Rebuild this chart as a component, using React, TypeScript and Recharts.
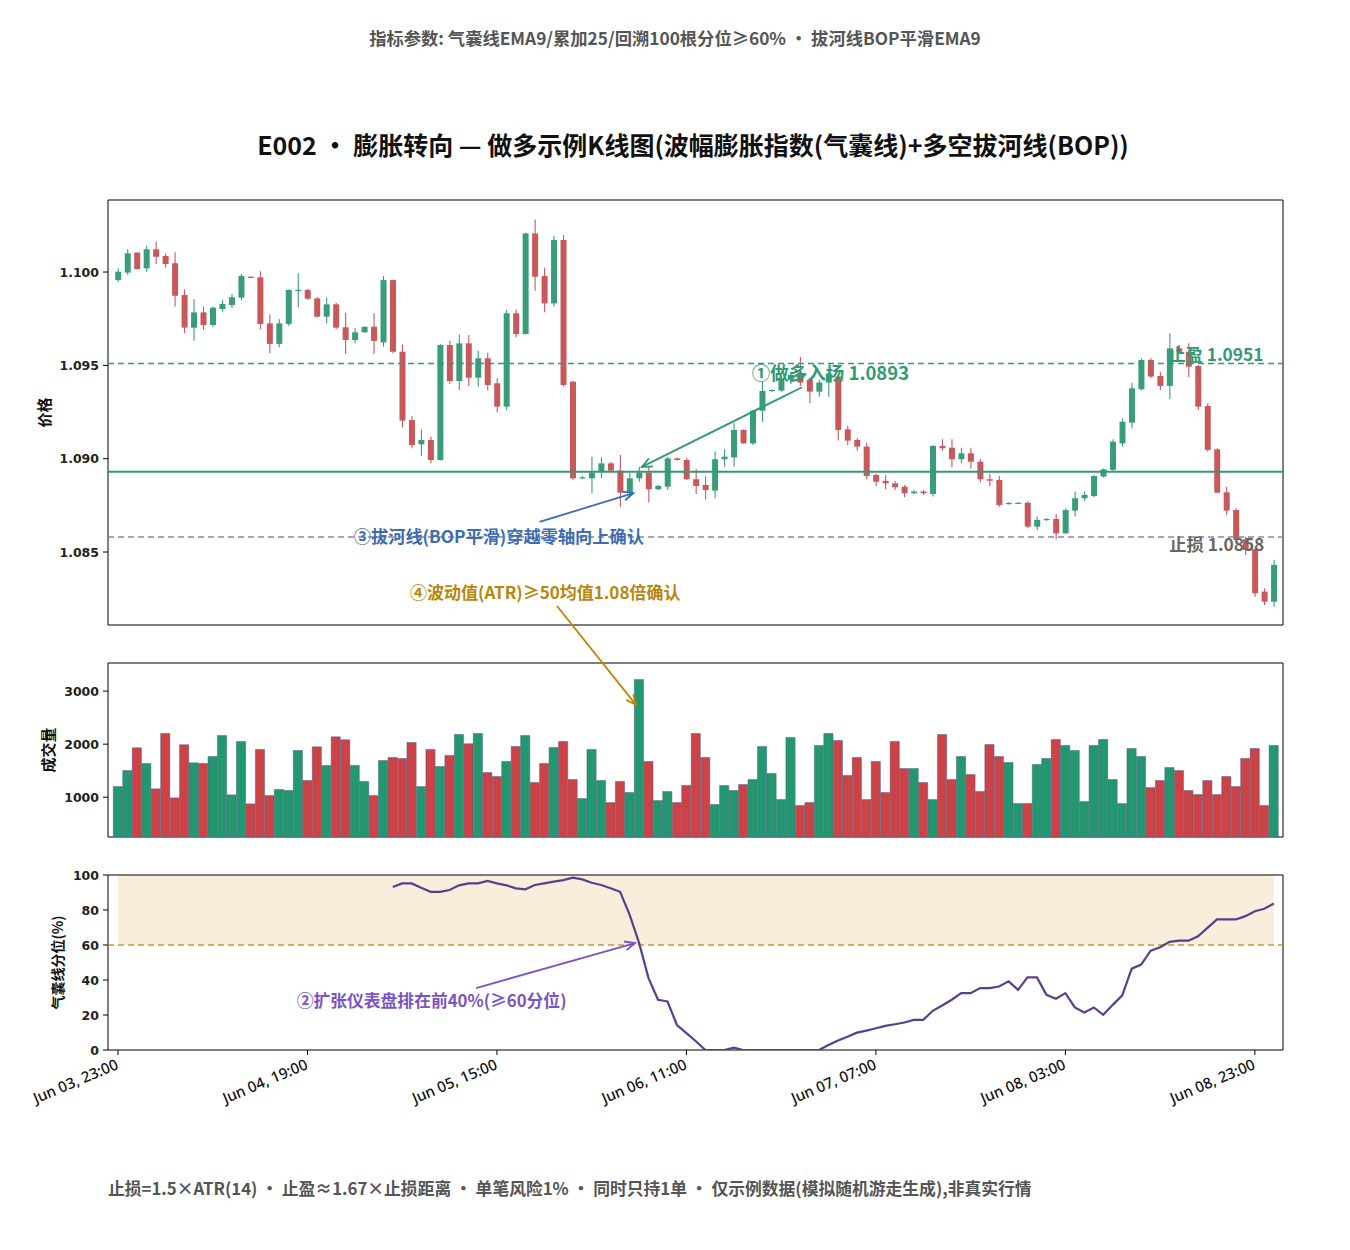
import React from 'react';
import { ComposedChart, Bar, Line, XAxis, YAxis, ReferenceLine, ReferenceArea, ReferenceDot, Cell } from 'recharts';

// ---------- data ----------
const timeLabels = ['Jun 03, 23:00', 'Jun 04, 19:00', 'Jun 05, 15:00', 'Jun 06, 11:00', 'Jun 07, 07:00', 'Jun 08, 03:00', 'Jun 08, 23:00'];
const tickIdx = [0, 20, 40, 60, 80, 100, 120];
const priceTicks = [1.085, 1.09, 1.095, 1.1];
const volumeTicks = [1000, 2000, 3000];
const pctTicks = [0, 20, 40, 60, 80, 100];

const opens = [1.09957, 1.09997, 1.10104, 1.1002, 1.10122, 1.10086, 1.10047, 1.09877, 1.09702, 1.09784, 1.09716, 1.09802, 1.09823, 1.09863, 1.09975, 1.09972, 1.09725, 1.09615, 1.09722, 1.09902, 1.09904, 1.09859, 1.09761, 1.09827, 1.09704, 1.09636, 1.09677, 1.09707, 1.09623, 1.09957, 1.09573, 1.09207, 1.09077, 1.091, 1.08993, 1.09609, 1.09416, 1.09618, 1.09434, 1.09538, 1.09404, 1.09279, 1.09779, 1.09668, 1.10207, 1.09979, 1.09832, 1.10172, 1.09413, 1.08897, 1.08895, 1.08931, 1.08975, 1.08936, 1.08818, 1.08895, 1.08925, 1.08836, 1.0885, 1.09002, 1.08993, 1.0889, 1.08859, 1.08829, 1.08997, 1.09007, 1.09154, 1.09082, 1.09257, 1.09363, 1.09365, 1.09422, 1.09449, 1.09422, 1.09359, 1.09408, 1.0944, 1.09157, 1.091, 1.09065, 1.08913, 1.08881, 1.08868, 1.0885, 1.08815, 1.08824, 1.08811, 1.09068, 1.09059, 1.08997, 1.09029, 1.08984, 1.0889, 1.08886, 1.08757, 1.08761, 1.08764, 1.08636, 1.08672, 1.08677, 1.086, 1.08722, 1.08788, 1.088, 1.08904, 1.0894, 1.09082, 1.09193, 1.09372, 1.09529, 1.09443, 1.0939, 1.09591, 1.09573, 1.09497, 1.09282, 1.0905, 1.0882, 1.08725, 1.08568, 1.08515, 1.08288, 1.08234];
const highs = [1.1002, 1.10122, 1.10106, 1.10141, 1.10163, 1.101, 1.10106, 1.09907, 1.09854, 1.09815, 1.09815, 1.0985, 1.09882, 1.0999, 1.09977, 1.10004, 1.09773, 1.09747, 1.09907, 1.09993, 1.09911, 1.09865, 1.09863, 1.09836, 1.09782, 1.09702, 1.09707, 1.09779, 1.09979, 1.0996, 1.09613, 1.09229, 1.09157, 1.09118, 1.09615, 1.09632, 1.09666, 1.09663, 1.09579, 1.09568, 1.09431, 1.09797, 1.098, 1.1021, 1.10282, 1.10023, 1.10193, 1.10198, 1.09415, 1.08907, 1.09011, 1.09007, 1.08984, 1.0902, 1.08925, 1.08957, 1.08957, 1.08859, 1.09011, 1.09007, 1.09002, 1.08943, 1.08907, 1.09038, 1.0905, 1.09193, 1.09156, 1.09261, 1.09413, 1.09372, 1.0944, 1.09466, 1.09545, 1.0943, 1.09422, 1.09475, 1.09449, 1.09177, 1.09109, 1.09086, 1.08918, 1.08913, 1.08881, 1.08859, 1.08832, 1.08832, 1.09073, 1.09104, 1.09104, 1.09059, 1.09059, 1.08997, 1.08918, 1.08907, 1.08766, 1.08767, 1.0877, 1.0869, 1.08682, 1.08704, 1.08734, 1.08824, 1.08824, 1.08913, 1.08948, 1.09104, 1.09216, 1.09407, 1.09538, 1.09538, 1.09466, 1.09672, 1.09609, 1.09618, 1.09502, 1.09297, 1.09056, 1.0885, 1.08734, 1.08582, 1.0852, 1.08306, 1.08457];
const lows = [1.09948, 1.09984, 1.10014, 1.10002, 1.10043, 1.10025, 1.09815, 1.09672, 1.09632, 1.0969, 1.09707, 1.09788, 1.09806, 1.0985, 1.09968, 1.09693, 1.09565, 1.09597, 1.09711, 1.09811, 1.0985, 1.09756, 1.09725, 1.09693, 1.09561, 1.09618, 1.09675, 1.09561, 1.096, 1.09565, 1.09168, 1.09056, 1.09015, 1.08975, 1.0899, 1.094, 1.09368, 1.0939, 1.09386, 1.09365, 1.09248, 1.09261, 1.0965, 1.09665, 1.099, 1.09784, 1.09815, 1.09386, 1.08886, 1.0889, 1.08815, 1.08895, 1.08931, 1.08743, 1.08793, 1.08877, 1.08765, 1.08832, 1.08832, 1.0899, 1.08886, 1.08811, 1.08782, 1.08788, 1.08957, 1.08957, 1.0908, 1.09073, 1.09198, 1.09359, 1.09359, 1.094, 1.0939, 1.09297, 1.09332, 1.09332, 1.09097, 1.09073, 1.09043, 1.0889, 1.08854, 1.08836, 1.08832, 1.08793, 1.08811, 1.08806, 1.08797, 1.09043, 1.08954, 1.08975, 1.08948, 1.08872, 1.08854, 1.08743, 1.08754, 1.08757, 1.08627, 1.08618, 1.08668, 1.08568, 1.08597, 1.0869, 1.08775, 1.08793, 1.089, 1.08936, 1.09065, 1.09163, 1.09365, 1.09431, 1.09368, 1.09318, 1.09565, 1.09436, 1.09261, 1.09038, 1.08815, 1.08698, 1.08556, 1.08484, 1.08261, 1.08216, 1.08207];
const closes = [1.10002, 1.101, 1.10016, 1.10122, 1.10082, 1.10043, 1.09873, 1.09702, 1.09784, 1.09716, 1.09809, 1.09829, 1.09865, 1.09979, 1.0997, 1.09722, 1.09615, 1.09725, 1.09904, 1.09905, 1.09857, 1.09761, 1.09827, 1.09702, 1.09636, 1.09677, 1.09707, 1.09631, 1.09957, 1.09573, 1.09204, 1.09073, 1.091, 1.08993, 1.09609, 1.09416, 1.09618, 1.09434, 1.09538, 1.09395, 1.09279, 1.09779, 1.09668, 1.10207, 1.09975, 1.09832, 1.10172, 1.09395, 1.08895, 1.089, 1.08925, 1.08975, 1.08936, 1.08818, 1.08895, 1.08925, 1.08836, 1.08854, 1.09002, 1.08993, 1.0889, 1.08854, 1.08832, 1.08997, 1.09011, 1.09154, 1.09082, 1.09257, 1.09363, 1.09368, 1.09422, 1.09449, 1.09408, 1.09359, 1.09408, 1.09457, 1.09154, 1.09097, 1.09065, 1.08907, 1.08877, 1.08868, 1.08847, 1.08815, 1.08824, 1.08815, 1.09068, 1.09056, 1.08997, 1.09029, 1.08984, 1.0889, 1.08882, 1.08752, 1.08763, 1.08764, 1.08636, 1.08672, 1.08677, 1.086, 1.08725, 1.08788, 1.08806, 1.08907, 1.08943, 1.09091, 1.09198, 1.09377, 1.09529, 1.0944, 1.0939, 1.09591, 1.09573, 1.09493, 1.09279, 1.09047, 1.08818, 1.08722, 1.08565, 1.08511, 1.08279, 1.08234, 1.08431];
const volumes = [1201, 1503, 1931, 1635, 1157, 2201, 987, 1988, 1648, 1635, 1767, 2164, 1044, 2050, 874, 1900, 1031, 1145, 1126, 1881, 1315, 1950, 1598, 2138, 2082, 1598, 1296, 1031, 1692, 1749, 1730, 2032, 1201, 1900, 1579, 1786, 2183, 2006, 2201, 1465, 1390, 1673, 1956, 2164, 1277, 1635, 1937, 2050, 1333, 975, 1900, 1315, 899, 1296, 1088, 3220, 1673, 937, 1107, 899, 1220, 2201, 1749, 862, 1220, 1126, 1239, 1333, 1956, 1447, 956, 2126, 843, 899, 1975, 2201, 2069, 1409, 1749, 956, 1673, 1088, 2050, 1541, 1541, 1277, 956, 2183, 1333, 1767, 1428, 1107, 1994, 1767, 1654, 880, 880, 1616, 1730, 2088, 1975, 1881, 918, 1975, 2088, 1333, 880, 1918, 1767, 1182, 1315, 1560, 1503, 1126, 1050, 1315, 1050, 1390, 1201, 1730, 1918, 843, 1975];
const pctLine: (number | null)[] = [null, null, null, null, null, null, null, null, null, null, null, null, null, null, null, null, null, null, null, null, null, null, null, null, null, null, null, null, null, 93.1, 95.2, 95.2, 92.7, 90.4, 90.4, 91.4, 94.1, 95.2, 95.2, 96.6, 95.2, 94.1, 92.4, 91.8, 94.3, 95.2, 96.2, 97.1, 98.5, 97.5, 95.6, 94.3, 92.4, 90.4, 77.4, 61.2, 41.1, 28.7, 27.7, 14.3, 9.6, 5.0, 0, 0, 0, 1.3, 0, 0, 0, 0, 0, 0, 0, 0, 0, 2.9, 5.4, 7.6, 9.9, 11.1, 12.4, 13.8, 14.7, 15.7, 17.2, 17.2, 22.4, 25.4, 28.7, 32.5, 32.5, 35.4, 35.4, 36.3, 39.2, 34.4, 41.5, 41.5, 31.5, 29.3, 32.5, 24.3, 21.4, 24.3, 20.1, 25.8, 31.2, 46.5, 48.8, 56.8, 58.7, 61.8, 62.5, 62.5, 65.0, 69.8, 74.6, 74.6, 74.6, 76.5, 79.3, 80.7, 83.7];

const entryPrice = 1.0893;
const takeProfit = 1.0951;
const stopLoss = 1.0858;
const pctThreshold = 60;

// annotation anchors in data space (index, value)
const noteTexts = ['①做多入场 1.0893', '②扩张仪表盘排在前40%(≥60分位)', '③拔河线(BOP平滑)穿越零轴向上确认', '④波动值(ATR)≥50均值1.08倍确认', '止盈 1.0951', '止损 1.0858'];
const noteAnchors = [
  { i: 66.9, v: 1.09465 },
  { i: 33.1, v: 28.6 },
  { i: 40.2, v: 1.08591 },
  { i: 45.1, v: 1.08291 },
  { i: 120.9, v: 1.09566 },
  { i: 121.0, v: 1.08543 },
];
const arrowFrom = [{ i: 72.2, v: 1.09383 }, { i: 37.8, v: 35.4 }, { i: 44.5, v: 1.08661 }, { i: 46.34, v: 1.08211 }];
const arrowTo = [{ i: 55.3, v: 1.08956 }, { i: 54.57, v: 61.1 }, { i: 54.4, v: 1.08816 }, { i: 54.68, v: 1.07681 }];

const rows = opens.map((o, i) => ({ i, o, h: highs[i], l: lows[i], c: closes[i], v: volumes[i], p: pctLine[i] }));

// ---------- style ----------
const X_MIN = -1.055;
const X_MAX = 122.97;
const P_MIN = 1.08109;
const P_MAX = 1.10386;
const V_MIN = 250;
const V_MAX = 3530;
const C_UP = '#3a9d7a';
const C_DN = '#c9585c';
const V_UP = '#23976f';
const V_DN = '#cb4347';
const GREEN = '#2f9a73';
const FONT = '"Noto Sans CJK SC", "Noto Sans", sans-serif';
const NUM_FONT = '"DejaVu Sans", sans-serif';

const Candle = (props: any) => {
  const { x, y, width, height, payload } = props;
  if (!payload) return null;
  const { o, h, l, c } = payload;
  const top = Math.min(y, y + height);
  const bot = Math.max(y, y + height);
  const span = h - l;
  const py = (val: number) => (span === 0 ? top : top + ((h - val) / span) * (bot - top));
  const col = c >= o ? C_UP : C_DN;
  const cx = x + width / 2;
  const yo = py(o);
  const yc = py(c);
  const bt = Math.min(yo, yc);
  const bh = Math.max(Math.abs(yo - yc), 1.2);
  return (
    <g>
      <line x1={cx} x2={cx} y1={top} y2={bot} stroke={col} strokeWidth={1.1} />
      <rect x={x} y={bt} width={width} height={bh} fill={col} />
    </g>
  );
};

const arrowShape = (color: string) => (p: any) => {
  const { x1, y1, x2, y2 } = p;
  const ang = Math.atan2(y2 - y1, x2 - x1);
  const L = 11;
  const a = 0.42;
  const ax1 = x2 - L * Math.cos(ang - a);
  const ay1 = y2 - L * Math.sin(ang - a);
  const ax2 = x2 - L * Math.cos(ang + a);
  const ay2 = y2 - L * Math.sin(ang + a);
  return (
    <g>
      <line x1={x1} y1={y1} x2={x2} y2={y2} stroke={color} strokeWidth={1.8} />
      <polyline points={`${ax1},${ay1} ${x2},${y2} ${ax2},${ay2}`} fill="none" stroke={color} strokeWidth={1.8} />
    </g>
  );
};

const textShape = (text: string, color: string, anchor: string, size = 17) => (p: any) => (
  <text x={p.cx} y={p.cy} textAnchor={anchor} dominantBaseline="central" fill={color} fontSize={size} fontWeight={700} fontFamily={FONT}>
    {text}
  </text>
);

const YTick = (fmt: (v: number) => string) => (props: any) => {
  const { x, y, payload } = props;
  return (
    <text x={x} y={y} textAnchor="end" dominantBaseline="central" fontFamily={NUM_FONT} fontWeight={700} fontSize={12.5} fill="#222">
      {fmt(payload.value)}
    </text>
  );
};

const XTick = (props: any) => {
  const { x, y, payload } = props;
  const k = tickIdx.indexOf(payload.value);
  const label = k >= 0 ? timeLabels[k] : '';
  const ax = x - 3;
  const ay = y + 1;
  return (
    <text x={ax} y={ay} transform={`rotate(-23 ${ax} ${ay})`} textAnchor="end" dy="0.75em" fontFamily='"Noto Sans", sans-serif' fontWeight={500} fontSize={15} fill="#111">
      {label}
    </text>
  );
};

const yTitle = (text: string, cx: number, size: number) => ({
  content: (props: any) => {
    const vb = props.viewBox || { y: 0, height: 0 };
    const cy = vb.y + vb.height / 2;
    return (
      <text x={cx} y={cy} transform={`rotate(-90 ${cx} ${cy})`} textAnchor="middle" dominantBaseline="central" fontSize={size} fontWeight={700} fontFamily={FONT} fill="#111">
        {text}
      </text>
    );
  },
});

const xAxisCommon = {
  dataKey: 'i',
  type: 'number' as const,
  domain: [X_MIN, X_MAX],
  allowDataOverflow: true,
  ticks: tickIdx,
  axisLine: false,
  tickLine: { stroke: '#000' },
  tickSize: 5,
};

function PriceChart() {
  return (
    <ComposedChart width={1350} height={570} data={rows} margin={{ top: 50, right: 67, bottom: 85, left: 0 }}>
      <XAxis {...xAxisCommon} tick={false} height={10} />
      <YAxis
        type="number"
        domain={[P_MIN, P_MAX]}
        allowDataOverflow
        ticks={priceTicks}
        width={108}
        axisLine={false}
        tickLine={{ stroke: '#000' }}
        tickSize={5}
        tickMargin={4}
        tick={YTick((v) => v.toFixed(3))}
        label={yTitle('价格', 43, 15)}
      />
      <ReferenceLine y={takeProfit} stroke={GREEN} strokeDasharray="6 4" strokeWidth={1.5} />
      <ReferenceLine y={entryPrice} stroke={GREEN} strokeWidth={2} />
      <ReferenceLine y={stopLoss} stroke="#8a8a8a" strokeDasharray="6 4" strokeWidth={1.5} />
      <Bar dataKey={(d: any) => [d.l, d.h]} barSize={6} shape={<Candle />} isAnimationActive={false} />
      <ReferenceArea x1={X_MIN} x2={X_MAX} y1={P_MIN} y2={P_MAX} fill="none" fillOpacity={0} stroke="#000" strokeWidth={1} ifOverflow="visible" />
      <ReferenceDot x={noteAnchors[4].i} y={noteAnchors[4].v} r={0} ifOverflow="visible" shape={textShape(noteTexts[4], GREEN, 'end', 17.3)} />
      <ReferenceDot x={noteAnchors[5].i} y={noteAnchors[5].v} r={0} ifOverflow="visible" shape={textShape(noteTexts[5], '#666', 'end', 17.3)} />
      <ReferenceDot x={noteAnchors[0].i} y={noteAnchors[0].v} r={0} ifOverflow="visible" shape={textShape(noteTexts[0], GREEN, 'start', 18.5)} />
      <ReferenceDot x={noteAnchors[2].i} y={noteAnchors[2].v} r={0} ifOverflow="visible" shape={textShape(noteTexts[2], '#3c6db4', 'middle', 17.2)} />
      <ReferenceDot x={noteAnchors[3].i} y={noteAnchors[3].v} r={0} ifOverflow="visible" shape={textShape(noteTexts[3], '#b8860b', 'middle', 17)} />
      <ReferenceLine segment={[{ x: arrowFrom[0].i, y: arrowFrom[0].v }, { x: arrowTo[0].i, y: arrowTo[0].v }]} ifOverflow="visible" shape={arrowShape(GREEN)} />
      <ReferenceLine segment={[{ x: arrowFrom[2].i, y: arrowFrom[2].v }, { x: arrowTo[2].i, y: arrowTo[2].v }]} ifOverflow="visible" shape={arrowShape('#3c6db4')} />
      <ReferenceLine segment={[{ x: arrowFrom[3].i, y: arrowFrom[3].v }, { x: arrowTo[3].i, y: arrowTo[3].v }]} ifOverflow="visible" shape={arrowShape('#b8860b')} />
    </ComposedChart>
  );
}

function VolumeChart() {
  return (
    <ComposedChart width={1350} height={210} data={rows} margin={{ top: 23, right: 67, bottom: 3, left: 0 }}>
      <XAxis {...xAxisCommon} tick={false} height={10} />
      <YAxis
        type="number"
        domain={[V_MIN, V_MAX]}
        allowDataOverflow
        ticks={volumeTicks}
        width={108}
        axisLine={false}
        tickLine={{ stroke: '#000' }}
        tickSize={5}
        tickMargin={4}
        tick={YTick((v) => String(v))}
        label={yTitle('成交量', 47, 15)}
      />
      <Bar dataKey="v" barSize={9.2} isAnimationActive={false} stroke="#4f6088" strokeWidth={0.5}>
        {rows.map((r) => (
          <Cell key={r.i} fill={r.c >= r.o ? V_UP : V_DN} />
        ))}
      </Bar>
      <ReferenceArea x1={X_MIN} x2={X_MAX} y1={V_MIN} y2={V_MAX} fill="none" fillOpacity={0} stroke="#000" strokeWidth={1} ifOverflow="visible" />
    </ComposedChart>
  );
}

function PctChart() {
  return (
    <ComposedChart width={1350} height={250} data={rows} margin={{ top: 15, right: 67, bottom: 0, left: 0 }}>
      <XAxis {...xAxisCommon} tick={<XTick />} height={60} />
      <YAxis
        type="number"
        domain={[0, 100]}
        allowDataOverflow
        ticks={pctTicks}
        width={108}
        axisLine={false}
        tickLine={{ stroke: '#000' }}
        tickSize={5}
        tickMargin={4}
        tick={YTick((v) => String(v))}
        label={yTitle('气囊线分位(%)', 57, 14)}
      />
      <ReferenceArea x1={0} x2={122} y1={pctThreshold} y2={100} fill="#f7eedb" fillOpacity={1} stroke="none" ifOverflow="visible" />
      <ReferenceLine y={pctThreshold} stroke="#c8963e" strokeDasharray="6 4" strokeWidth={1.6} />
      <Line dataKey="p" stroke="#5a3f8e" strokeWidth={2.2} dot={false} isAnimationActive={false} connectNulls={false} />
      <ReferenceDot x={noteAnchors[1].i} y={noteAnchors[1].v} r={0} ifOverflow="visible" shape={textShape(noteTexts[1], '#7c53c4', 'middle', 16.8)} />
      <ReferenceLine segment={[{ x: arrowFrom[1].i, y: arrowFrom[1].v }, { x: arrowTo[1].i, y: arrowTo[1].v }]} ifOverflow="visible" shape={arrowShape('#7c53c4')} />
      <ReferenceArea x1={X_MIN} x2={X_MAX} y1={0} y2={100} fill="none" fillOpacity={0} stroke="#000" strokeWidth={1} ifOverflow="visible" />
    </ComposedChart>
  );
}

export default function App() {
  return (
    <div style={{ position: 'relative', width: 1350, height: 1250, background: '#fff', fontFamily: FONT, overflow: 'hidden' }}>
      <style>{`body{margin:0;} .recharts-surface{overflow:visible;}`}</style>
      <div style={{ position: 'absolute', left: 0, top: 26, width: 1350, textAlign: 'center', fontSize: 17.3, lineHeight: '24px', fontWeight: 700, color: '#555' }}>
        指标参数: 气囊线EMA9/累加25/回溯100根分位≥60% • 拔河线BOP平滑EMA9
      </div>
      <div style={{ position: 'absolute', left: 18, top: 127, width: 1350, textAlign: 'center', fontSize: 25, lineHeight: '34px', fontWeight: 700, color: '#111' }}>
        E002 • 膨胀转向 — 做多示例K线图(波幅膨胀指数(气囊线)+多空拔河线(BOP))
      </div>
      <div style={{ position: 'absolute', left: 0, top: 640 }}>
        <VolumeChart />
      </div>
      <div style={{ position: 'absolute', left: 0, top: 860 }}>
        <PctChart />
      </div>
      <div style={{ position: 'absolute', left: 0, top: 150 }}>
        <PriceChart />
      </div>
      <div style={{ position: 'absolute', left: 108, top: 1176, fontSize: 16.8, lineHeight: '24px', fontWeight: 700, color: '#555', whiteSpace: 'nowrap' }}>
        止损=1.5×ATR(14) • 止盈≈1.67×止损距离 • 单笔风险1% • 同时只持1单 • 仅示例数据(模拟随机游走生成),非真实行情
      </div>
    </div>
  );
}
